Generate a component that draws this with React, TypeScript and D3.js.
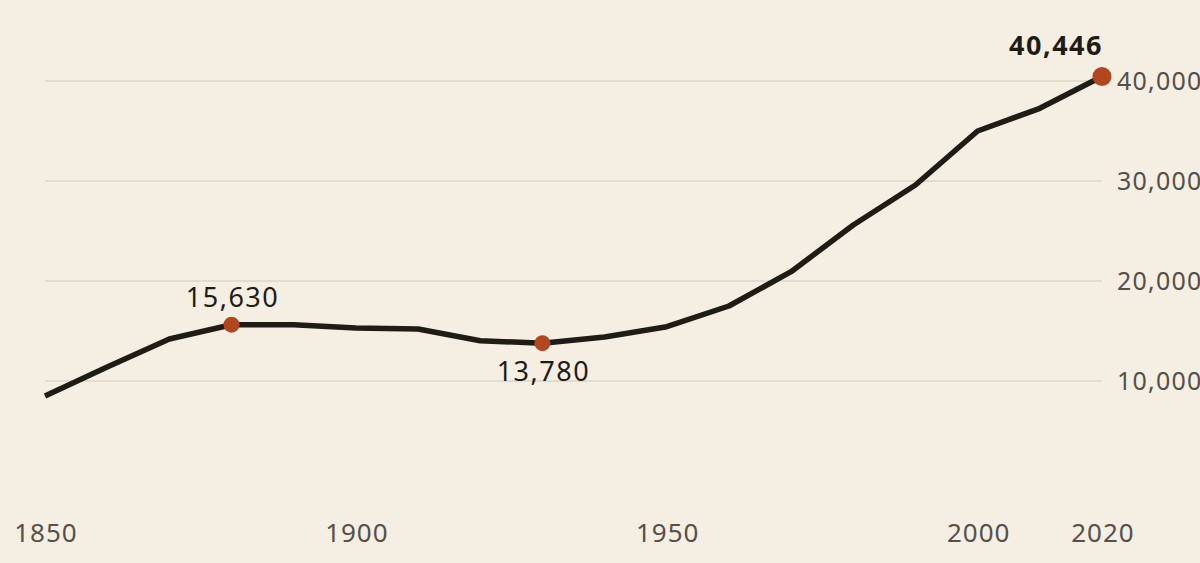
import React, { useEffect, useRef } from 'react';
import * as d3 from 'd3';

const years = [1850, 1860, 1870, 1880, 1890, 1900, 1910, 1920, 1930, 1940, 1950, 1960, 1970, 1980, 1990, 2000, 2010, 2020];
const population = [8500, 11400, 14200, 15630, 15620, 15300, 15200, 14030, 13780, 14400, 15430, 17500, 20930, 25600, 29600, 35000, 37270, 40446];
const xTicks = [1850, 1900, 1950, 2000, 2020];
const yTicks = [10000, 20000, 30000, 40000];
const highlights = [
  { year: 1880, value: 15630, pos: 'above' },
  { year: 1930, value: 13780, pos: 'below' },
  { year: 2020, value: 40446, pos: 'end' },
];

const WIDTH = 1200;
const HEIGHT = 563;
const FONT = '"Noto Sans", sans-serif';

export default function App() {
  const ref = useRef<SVGSVGElement>(null);

  useEffect(() => {
    const svg = d3.select(ref.current);
    svg.selectAll('*').remove();

    const data = years.map((y, i) => ({ year: y, value: population[i] }));

    const x = d3.scaleLinear().domain([1850, 2020]).range([45, 1102]);
    const y = d3.scaleLinear().domain([0, 40000]).range([481, 81]);

    svg.append('rect').attr('width', WIDTH).attr('height', HEIGHT).attr('fill', '#f4efe2');

    // gridlines
    svg
      .append('g')
      .selectAll('line')
      .data(yTicks)
      .join('line')
      .attr('x1', 45)
      .attr('x2', 1102)
      .attr('y1', (d) => y(d))
      .attr('y2', (d) => y(d))
      .attr('stroke', '#cfcabd')
      .attr('stroke-width', 1);

    // y labels
    svg
      .append('g')
      .selectAll('text')
      .data(yTicks)
      .join('text')
      .attr('x', 1117)
      .attr('y', (d) => y(d) + 9)
      .attr('font-family', FONT)
      .attr('font-size', 25)
      .attr('letter-spacing', 1.2)
      .attr('fill', '#555049')
      .text((d) => d3.format(',')(d));

    // x labels
    svg
      .append('g')
      .selectAll('text')
      .data(xTicks)
      .join('text')
      .attr('x', (d) => x(d) + 1)
      .attr('y', 542)
      .attr('text-anchor', 'middle')
      .attr('font-family', FONT)
      .attr('font-size', 26)
      .attr('letter-spacing', 1)
      .attr('fill', '#555049')
      .text((d) => d);

    const line = d3
      .line<{ year: number; value: number }>()
      .x((d) => x(d.year))
      .y((d) => y(d.value));

    svg
      .append('path')
      .datum(data)
      .attr('d', line)
      .attr('fill', 'none')
      .attr('stroke', '#1f1b15')
      .attr('stroke-width', 5.5)
      .attr('stroke-linejoin', 'round');

    svg
      .append('g')
      .selectAll('circle')
      .data(highlights)
      .join('circle')
      .attr('cx', (d) => x(d.year))
      .attr('cy', (d) => y(d.value))
      .attr('r', (d) => (d.pos === 'end' ? 9.5 : 8))
      .attr('fill', '#b2461f');

    svg
      .append('g')
      .selectAll('text')
      .data(highlights)
      .join('text')
      .attr('x', (d) => (d.pos === 'end' ? x(d.year) + 1 : x(d.year) + 1))
      .attr('y', (d) => (d.pos === 'below' ? y(d.value) + 38 : d.pos === 'above' ? y(d.value) - 18 : y(d.value) - 22))
      .attr('text-anchor', (d) => (d.pos === 'end' ? 'end' : 'middle'))
      .attr('font-family', FONT)
      .attr('font-size', 27)
      .attr('letter-spacing', 1.5)
      .attr('font-weight', (d) => (d.pos === 'end' ? 700 : 400))
      .attr('fill', '#1f1b15')
      .text((d) => d3.format(',')(d.value));
  }, []);

  return (
    <svg
      ref={ref}
      width={WIDTH}
      height={HEIGHT}
      style={{ position: 'absolute', left: 0, top: 0, display: 'block' }}
    />
  );
}
